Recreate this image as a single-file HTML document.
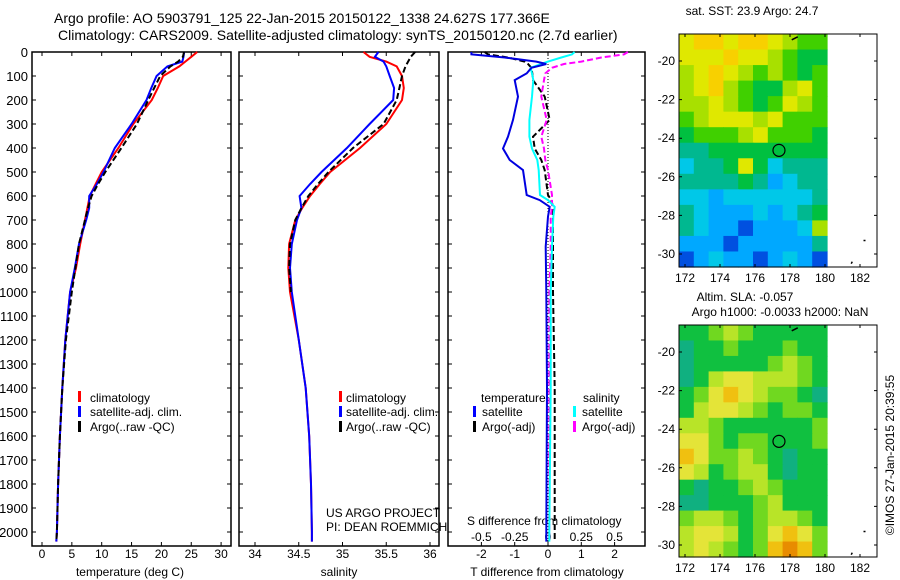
<!DOCTYPE html>
<html><head><meta charset="utf-8">
<style>
html,body{margin:0;padding:0;background:#fff;}
svg{display:block;font-family:"Liberation Sans",sans-serif;}
text{fill:#000;}
</style></head>
<body>
<svg id="fig" width="900" height="580" viewBox="0 0 900 580" xmlns="http://www.w3.org/2000/svg">
<text x="54" y="23" font-size="14">Argo profile: AO 5903791_125 22-Jan-2015 20150122_1338 24.627S 177.366E</text>
<text x="58" y="40" font-size="14">Climatology: CARS2009. Satellite-adjusted climatology: synTS_20150120.nc (2.7d earlier)</text>
<g id="g"></g>
<text x="752" y="15" font-size="12" text-anchor="middle">sat. SST: 23.9 Argo: 24.7</text>
<text x="745" y="301" font-size="12" text-anchor="middle">Altim. SLA: -0.057</text>
<text x="780" y="316" font-size="12" text-anchor="middle">Argo h1000: -0.0033 h2000: NaN</text>
<text transform="translate(894,455) rotate(-90)" font-size="12" text-anchor="middle">©IMOS 27-Jan-2015 20:39:55</text>
<text x="326" y="517" font-size="12">US ARGO PROJECT</text>
<text x="326" y="531" font-size="12">PI: DEAN ROEMMICH</text>
</svg>
<script>
// ---- data ----
const depthTicks=[0,100,200,300,400,500,600,700,800,900,1000,1100,1200,1300,1400,1500,1600,1700,1800,1900,2000];
const tempTicks=[0,5,10,15,20,25,30];
const salTicks=[34,34.5,35,35.5,36];
const tdTicks=[-2,-1,0,1,2];
const sdTicks=[-0.5,-0.25,0,0.25,0.5];
const sdTickLabels=["-0.5","-0.25","0","0.25","0.5"];
const profDepth=[0,20,40,60,100,150,200,300,400,500,550,600,650,700,800,900,1000,1200,1400,1600,1800,2000,2040];
const tempClim=[26,25,24,23,20.3,19.4,18.4,15.3,12.8,10,9,8,7.6,7.2,6.4,5.7,4.7,3.9,3.4,3,2.7,2.5,2.4];
const tempSat=[23.8,23.7,23.5,21,19.2,18.3,17.5,15,12.2,10.3,9.2,7.9,7.9,7.4,6.2,5.5,4.7,3.9,3.4,3,2.7,2.5,2.4];
const tempArgo=[23.8,23.6,22.8,21.5,19.8,18.8,17.8,15.9,13.3,10.6,9.4,8.3,7.7,7.2,6.2,5.6,5.0,4.0,3.4,3,2.7,2.5,2.4];
const salClim=[35.24,35.31,35.5,35.62,35.68,35.7,35.68,35.5,35.2,34.86,34.74,34.63,34.54,34.46,34.39,34.38,34.4,34.5,34.58,34.62,34.64,34.65,34.65];
const salSat=[35.41,35.37,35.47,35.5,35.54,35.59,35.58,35.31,35.05,34.76,34.63,34.51,34.53,34.48,34.42,34.4,34.42,34.5,34.58,34.62,34.64,34.65,34.65];
const salArgo=[35.83,35.78,35.75,35.72,35.68,35.65,35.62,35.47,35.12,34.84,34.72,34.61,34.53,34.46,34.4,34.39,34.41];
const diffDepth=[0,10,23,40,50,66,89,117,186,283,353,402,450,492,596,617,645,686,811,1000,1400,2000,2040];
const tdSat=[-2.3,-2.3,-1.3,-0.35,-0.05,-0.5,-0.64,-1.0,-0.9,-1.05,-1.2,-1.35,-1.15,-0.75,-0.64,-0.25,0.05,0.0,-0.07,-0.05,-0.03,-0.05,-0.05];
const tdArgo=[-1.9,-1.8,-1.2,-0.7,-0.6,-0.5,-0.47,-0.45,-0.1,0.05,-0.45,-0.4,-0.2,-0.1,0.0,0.1,0.15,0.15,0.15,0.15,0.2,0.2,0.2];
const sdSat=[0.2,0.18,0.1,0.0,-0.05,-0.13,-0.12,-0.11,-0.12,-0.14,-0.14,-0.12,-0.08,-0.07,-0.06,0.0,0.05,0.04,0.03,0.02,0.02,0.01,0.01];
const sdArgo=[0.6,0.57,0.4,0.25,0.12,0.03,-0.02,-0.03,-0.05,-0.01,-0.05,-0.03,-0.02,0.0,0.03,0.03,0.03,0.02,0.02,0.01,0.01,0.01,0.01];
const sstGrid=[
[8,9,9,8,9,9,8,7,6,6],[8,8,8,9,8,8,7,6,5,5],[7,8,9,8,7,6,7,6,5,6],[7,8,9,7,6,5,5,7,8,6],
[7,7,8,7,6,5,6,8,7,6],[6,7,8,8,8,7,8,6,6,6],[5,6,6,6,7,8,6,6,6,5],[4,4,5,5,5,5,5,5,5,5],
[3,4,4,5,8,5,3,4,4,4],[4,4,4,4,5,4,2,3,4,4],[3,3,2,3,3,3,3,3,3,4],[4,3,2,2,2,3,2,3,4,5],
[4,3,2,2,1,2,2,2,3,7],[2,2,2,1,2,2,2,2,2,4],[1,2,3,2,2,1,2,3,2,1]];
const slaGrid=[
[5,5,6,7,6,5,5,5,5,5],[4,5,5,6,5,5,5,6,5,5],[4,5,5,5,5,5,6,7,6,5],[4,5,7,8,8,7,7,7,6,5],
[5,6,8,9,8,7,6,6,5,4],[5,7,8,8,7,6,5,6,6,5],[7,7,6,5,5,5,5,5,5,6],[8,8,6,5,6,6,5,5,5,6],
[9,8,6,6,7,6,5,4,5,5],[8,7,5,6,7,7,5,4,5,5],[5,4,5,5,6,7,6,5,5,5],[4,4,5,5,5,6,7,5,5,5],
[6,7,7,6,5,6,7,7,6,5],[7,8,8,7,5,6,8,9,8,6],[7,8,7,6,5,6,9,10,9,6]];
const lonTicks=[172,174,176,178,180,182];
const latTicks=[-20,-22,-24,-26,-28,-30];
const argoLon=177.37, argoLat=-24.63;

// ---- helpers ----
const NS="http://www.w3.org/2000/svg";
const G=document.getElementById('g');
function mk(tag,attrs,parent){const e=document.createElementNS(NS,tag);for(const k in attrs)e.setAttribute(k,attrs[k]);(parent||G).appendChild(e);return e;}
const top0=52, bot=546;
const yD=d=>52+d*0.24;
const xT=v=>42+(v)*5.97;
const xS=v=>255+(v-34)*87.5;
const xTD=v=>548+v*33.3;
const xSD=v=>548+v*133.2;

function panel(name,x0,x1){
  const r=mk('rect',{x:x0,y:top0,width:x1-x0,height:bot-top0,fill:'none',stroke:'#000','stroke-width':1.5});
  
  
  depthTicks.forEach(d=>{
    const t=mk('path',{d:`M${x0},${yD(d)}h4M${x1},${yD(d)}h-4`,stroke:'#000'});
    
    
  });
}
function xticks(name,ticks,fx,labels,ly){
  ticks.forEach((v,i)=>{
    const t=mk('path',{d:`M${fx(v)},${top0}v4M${fx(v)},${bot}v-4`,stroke:'#000'});
    
    
    if(labels){
      const tx=mk('text',{x:fx(v),y:ly,'font-size':12,'text-anchor':'middle'});
      tx.textContent=labels[i];
      
      
    }
  });
}
function line(name,depths,vals,fx,color,dash,w){
  const pts=vals.map((v,i)=>fx(v).toFixed(1)+','+yD(depths[i]).toFixed(1)).join(' ');
  const p=mk('polyline',{points:pts,fill:'none',stroke:color,'stroke-width':w||2,'stroke-dasharray':dash||'none'});
  
  
}
function label(name,x,y,txt,size,anchor){
  const t=mk('text',{x:x,y:y,'font-size':size||12,'text-anchor':anchor||'start'});
  t.textContent=txt;
  
  
}
function legBar(name,x,y,color){
  const r=mk('rect',{x:x,y:y-10,width:3,height:11,fill:color});
  
  
}

// panel 1: temperature
panel('temperature-panel',32,231);
depthTicks.forEach(d=>{
  const t=mk('text',{x:28,y:yD(d)+5,'font-size':13,'text-anchor':'end'});
  t.textContent=d;
  
  
});
xticks('temperature-axis',tempTicks,xT,tempTicks.map(String),558);
label('temperature-axis-title',130,576,'temperature (deg C)',12,'middle');
line('temp-climatology',profDepth,tempClim,xT,'#f00');
line('temp-satellite-adj',profDepth,tempSat,xT,'#00f');
line('temp-argo',profDepth,tempArgo,xT,'#000','6,3');
legBar('legend-climatology-swatch',78,401,'#f00');label('legend-climatology',90,402,'climatology');
legBar('legend-satellite-swatch',78,416,'#00f');label('legend-satellite-adj',90,416,'satellite-adj. clim.');
legBar('legend-argo-swatch',78,431,'#000');label('legend-argo',90,431,'Argo(..raw -QC)');

// panel 2: salinity
panel('salinity-panel',239,439);
xticks('salinity-axis',salTicks,xS,["34","34.5","35","35.5","36"],558);
label('salinity-axis-title',339,576,'salinity',12,'middle');
line('sal-climatology',profDepth,salClim,xS,'#f00');
line('sal-satellite-adj',profDepth,salSat,xS,'#00f');
line('sal-argo',profDepth.slice(0,salArgo.length),salArgo,xS,'#000','6,3');
legBar('legend2-climatology-swatch',339,401,'#f00');label('legend2-climatology',346,402,'climatology');
legBar('legend2-satellite-swatch',339,416,'#00f');label('legend2-satellite-adj',346,416,'satellite-adj. clim.');
legBar('legend2-argo-swatch',339,431,'#000');label('legend2-argo',346,431,'Argo(..raw -QC)');

// panel 3: differences
panel('difference-panel',448,645);
xticks('t-diff-axis',tdTicks,xTD,tdTicks.map(String),558);
sdTicks.forEach((v,i)=>{
  const t=mk('text',{x:xSD(v),y:541,'font-size':12,'text-anchor':'middle'});
  t.textContent=sdTickLabels[i];
  
  
});
label('s-diff-axis-title',467,525,'S difference from climatology');
label('t-diff-axis-title',547,576,'T difference from climatology',12,'middle');
const zl=mk('line',{x1:548,y1:top0,x2:548,y2:bot,stroke:'#000','stroke-dasharray':'1,2'});


line('t-diff-argo',diffDepth,tdArgo,xTD,'#000','6,3');
line('s-diff-argo',diffDepth,sdArgo,xSD,'#f0f','6,3');
line('s-diff-satellite',diffDepth,sdSat,xSD,'#0ff');
line('t-diff-satellite',diffDepth,tdSat,xTD,'#0000e0');
label('legend3-temperature',481,402,'temperature');
legBar('legend3-t-sat-swatch',473,416,'#00f');label('legend3-t-satellite',482,416,'satellite');
legBar('legend3-t-argo-swatch',473,431,'#000');label('legend3-t-argo',482,431,'Argo(-adj)');
label('legend3-salinity',583,402,'salinity');
legBar('legend3-s-sat-swatch',573,416,'#0ff');label('legend3-s-satellite',582,416,'satellite');
legBar('legend3-s-argo-swatch',573,431,'#f0f');label('legend3-s-argo',582,431,'Argo(-adj)');

// maps
const sstCol=['#0020a0','#0050e0','#00a8ff','#00c8e8','#00b890','#00c040','#40d000','#a8e000','#e0e800','#f8d000','#f09000'];
const slaCol=['#0030a0','#0060e0','#00a0ff','#00c0e0','#10b080','#10c040','#70d820','#b8e428','#e4e438','#f0c010','#e88c00'];
function map(name,top,bottom,grid,cols){
  const fxL=v=>685+(v-172)*17.5;
  const y20=top+27;
  const fyL=v=>y20+(-20-v)*19.3;
  const dx0=679,dx1=827;
  const nr=grid.length,nc=grid[0].length;
  const cw=(dx1-dx0)/nc,ch=(bottom-top)/nr;
  grid.forEach((row,r)=>row.forEach((v,c)=>{
    const e=mk('rect',{x:(dx0+c*cw).toFixed(2),y:(top+r*ch).toFixed(2),width:(cw+0.6).toFixed(2),height:(ch+0.6).toFixed(2),fill:cols[v]});
    
    
  }));
  const f=mk('rect',{x:679,y:top,width:198,height:bottom-top,fill:'none',stroke:'#000','stroke-width':1});
  
  
  lonTicks.forEach(v=>{
    const t=mk('path',{d:`M${fxL(v)},${top}v3M${fxL(v)},${bottom}v-3`,stroke:'#000'});
    
    
    const tx=mk('text',{x:fxL(v),y:bottom+15,'font-size':12,'text-anchor':'middle'});
    tx.textContent=v;
    
    
  });
  latTicks.forEach(v=>{
    const t=mk('path',{d:`M679,${fyL(v)}h3M877,${fyL(v)}h-3`,stroke:'#000'});
    
    
    const tx=mk('text',{x:675,y:fyL(v)+4,'font-size':12,'text-anchor':'end'});
    tx.textContent=v;
    
    
  });
  const c=mk('circle',{cx:fxL(argoLon),cy:fyL(argoLat),r:6,fill:'none',stroke:'#000','stroke-width':1.2});
  
  
  const i1=mk('path',{d:`M${fxL(178.1)},${fyL(-18.9)}l6,-3 M${fxL(182.2)},${fyL(-29.3)}h2 M${fxL(181.5)},${fyL(-30.5)}l1,-2`,stroke:'#000','stroke-width':1.5,fill:'none'});
  
  
}
map('sst-map',34,267,sstGrid,sstCol);
map('sla-map',325,557,slaGrid,slaCol);
</script>
</body></html>
